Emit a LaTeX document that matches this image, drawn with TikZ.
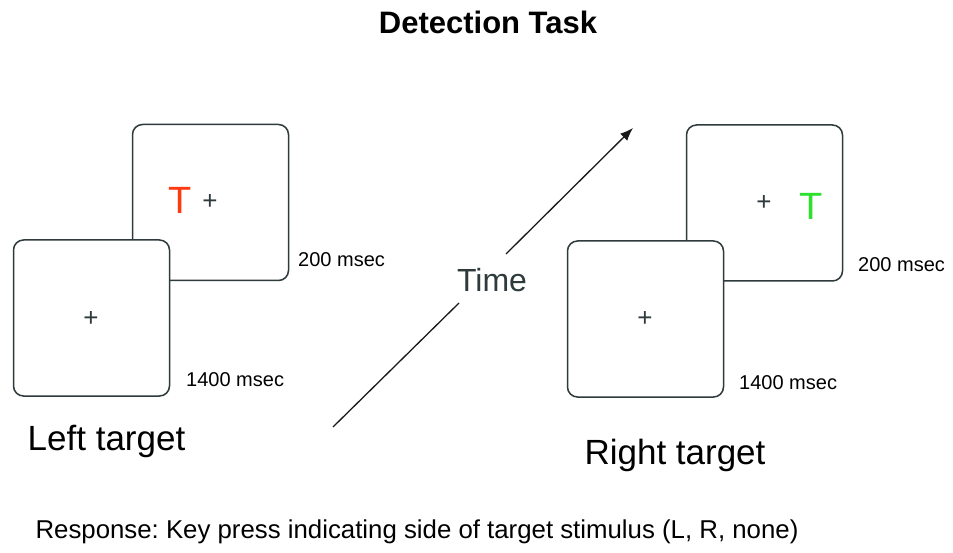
\documentclass[tikz,border=0pt]{standalone}
\usepackage{fontspec}
\setmainfont{Liberation Sans}
\usetikzlibrary{arrows.meta}
\frenchspacing
\definecolor{edge}{HTML}{2E3A3C}
\definecolor{tred}{HTML}{FF3A10}
\definecolor{tgreen}{HTML}{2EE02E}
\tikzset{
  screen/.style={draw=edge, line width=1.5pt, rounded corners=10pt, fill=white,
    minimum width=156pt, minimum height=156pt, inner sep=0pt},
  fix/.style={inner sep=0pt, font=\fontsize{26}{28}\selectfont, text=edge},
  dur/.style={anchor=west, inner sep=0pt, font=\fontsize{20}{22}\selectfont},
  lab/.style={inner sep=0pt, font=\fontsize{35}{40}\selectfont},
  tgt/.style={inner sep=0pt, font=\fontsize{38}{42}\selectfont},
  timeline/.style={line width=1.3pt, draw=black!90}
}
\begin{document}
\begin{tikzpicture}[x=1pt,y=1pt]
\useasboundingbox[fill=white] (0,0) rectangle (953,552);
% title
\node[inner sep=0pt, font=\bfseries\fontsize{31}{36}\selectfont] (title) at (488,530) {Detection Task};
% left pair
\node[screen] (lb) at (210.5,349.5) {};
\node[tgt, text=tred] (lT) at (180,352) {T};
\node[fix] (lbp) at (210,350) {+};
\node[screen] (lf) at (91.5,234) {};
\node[fix] (lfp) at (91,233) {+};
\node[dur] (l200) at (298,292) {200 msec};
\node[dur] (l1400) at (186,172) {1400 msec};
\node[lab] (ltarget) at (106.5,111) {Left target};
% right pair
\node[screen] (rb) at (764.5,349) {};
\node[fix] (rbp) at (764,349) {+};
\node[tgt, text=tgreen] (rT) at (811,346) {T};
\node[screen] (rf) at (645.5,233) {};
\node[fix] (rfp) at (645,233) {+};
\node[dur] (r200) at (858,287) {200 msec};
\node[dur] (r1400) at (739,169) {1400 msec};
\node[lab] (rtarget) at (675,97) {Right target};
% time arrow
\coordinate (ts) at (333,125);
\coordinate (g1) at (459,249);
\coordinate (g2) at (506,298);
\coordinate (te) at (633,424);
\node[inner sep=0pt, font=\fontsize{32}{36}\selectfont, text=edge] (time) at (492,272) {Time};
\draw[timeline] (ts) -- (g1);
\draw[timeline, -{Latex[length=13pt,width=10pt]}] (g2) -- (te);
% response
\node[inner sep=0pt, font=\fontsize{25.8}{30}\selectfont] (resp) at (417,20) {Response: Key press indicating side of target stimulus (L, R, none)};
\end{tikzpicture}
\end{document}
